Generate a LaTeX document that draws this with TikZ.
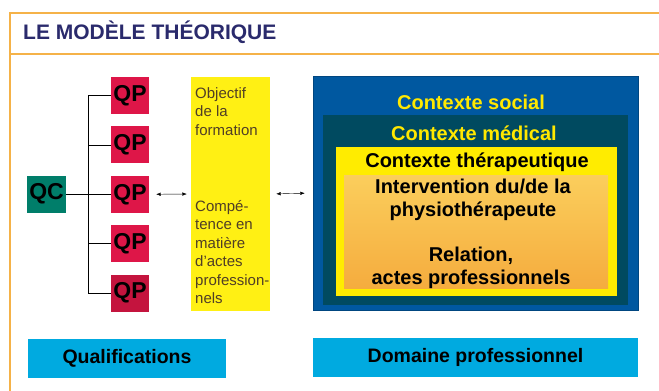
\documentclass[tikz,border=0pt]{standalone}
\usepackage{fontspec}
\setmainfont{Liberation Sans}
\usepackage{xcolor}
\usetikzlibrary{arrows.meta, positioning}

\definecolor{framecol}{RGB}{245,178,72}
\definecolor{titlecol}{RGB}{42,42,108}
\definecolor{qccol}{RGB}{0,126,106}
\definecolor{qpcol}{RGB}{222,22,72}
\definecolor{qpdark}{RGB}{196,20,62}
\definecolor{colyellow}{RGB}{255,240,20}
\definecolor{socialcol}{RGB}{0,88,160}
\definecolor{medcol}{RGB}{0,74,96}
\definecolor{therayellow}{RGB}{255,236,0}
\definecolor{orangetop}{RGB}{251,206,92}
\definecolor{orangebot}{RGB}{245,172,62}
\definecolor{labelyellow}{RGB}{255,232,0}
\definecolor{cyancol}{RGB}{0,170,224}
\definecolor{coltext}{RGB}{80,62,38}

\begin{document}
\begin{tikzpicture}[
    x=1pt, y=-1pt,
    frame/.style={draw=framecol, line width=2pt},
    qbox/.style={rectangle, minimum width=38pt, minimum height=37pt, inner sep=0pt, font=\fontsize{23}{23}\selectfont\bfseries},
    qcbox/.style={qbox, fill=qccol, minimum width=39pt},
    qpbox/.style={qbox, fill=qpcol},
    ctxbox/.style={rectangle, inner sep=0pt},
    biglabel/.style={inner sep=0pt, align=center, font=\fontsize{20}{23}\selectfont\bfseries},
    coltxt/.style={inner sep=0pt, anchor=north west, align=left, text=coltext, font=\fontsize{15}{18.5}\selectfont},
    footbox/.style={rectangle, fill=cyancol, inner sep=0pt, minimum height=39pt, font=\fontsize{19.5}{23}\selectfont\bfseries},
    biarrow/.style={{Latex[length=4.5pt,width=3.5pt]}-{Latex[length=4.5pt,width=3.5pt]}, thin},
    node distance=12pt
]
\useasboundingbox (0,0) rectangle (659,391);

% Header frame
\draw[frame] (659,13) -- (10,13) -- (10,391);
\draw[frame] (10,54) -- (659,54);
\node[anchor=west, inner sep=0pt, text=titlecol, font=\fontsize{21}{24}\selectfont\bfseries] (title) at (23,32) {LE MODÈLE THÉORIQUE};

% Qualifications
\node[qcbox] (qc) at (46.5,194) {QC};
\node[qpbox] (qp1) at (130,95.5) {QP};
\node[qpbox, below=of qp1] (qp2) {QP};
\node[qpbox, below=of qp2] (qp3) {QP};
\node[qpbox, below=of qp3] (qp4) {QP};
\node[qpbox, below=of qp4, fill=qpdark] (qp5) {QP};
\coordinate (fork) at (88,194);

% Objectif column
\node[rectangle, fill=colyellow, minimum width=79pt, minimum height=234pt, inner sep=0pt] (column) at (230.5,194) {};
\node[coltxt] (objectif) at (195,87) {Objectif\\de la\\formation};
\node[coltxt] (competence) at (195,200) {Compé-\\tence en\\matière\\d'actes\\profession-\\nels};

% Contexts
\node[ctxbox, fill=socialcol, draw=socialcol!80!black, minimum width=325pt, minimum height=234pt] (social) at (475.5,193) {};
\node[ctxbox, fill=medcol, minimum width=305pt, minimum height=190pt] (medical) at (475.5,210) {};
\node[ctxbox, fill=therayellow, minimum width=281pt, minimum height=149pt] (thera) at (476.5,221.5) {};
\node[ctxbox, top color=orangetop, bottom color=orangebot, minimum width=264pt, minimum height=113pt] (intervention) at (476,231.5) {};
\node[biglabel, text=labelyellow] (sociallabel) at (471,102) {Contexte social};
\node[biglabel, text=labelyellow] (medicallabel) at (474,133) {Contexte médical};
\node[biglabel] (theralabel) at (477,162) {Contexte thérapeutique};
\node[biglabel] (interlabel) at (473,200) {Intervention du/de la\\physiothérapeute};
\node[biglabel] (relationlabel) at (471,268) {Relation,\\actes professionnels};

% Footer
\node[footbox, minimum width=198pt] (qualif) at (127,358.5) {Qualifications};
\node[footbox, minimum width=325pt] (domaine) at (475.5,357.5) {Domaine professionnel};

% Connectors
\draw[thick] (qc.east) -- (fork);
\draw[thick] (fork |- qp1.west) -- (fork |- qp5.west);
\foreach \i in {1,...,5}
  \draw[thick] (fork |- qp\i.west) -- (qp\i.west);
\draw[biarrow, shorten <=7pt, shorten >=4pt] (qp3.east) -- (column.west);
\draw[biarrow, shorten <=6pt, shorten >=8pt] (column.east) -- (social.west);

\end{tikzpicture}
\end{document}
